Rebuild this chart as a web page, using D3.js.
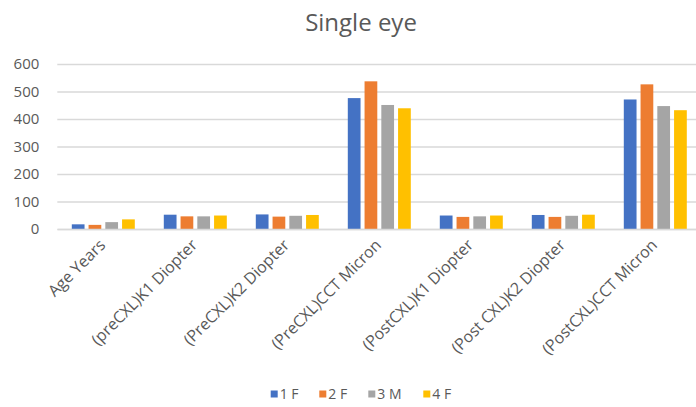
<!DOCTYPE html>
<html>
<head>
<meta charset="utf-8">
<script src="https://cdn.jsdelivr.net/npm/d3@7/dist/d3.min.js"></script>
<style>
  html, body { margin: 0; padding: 0; background: #fff; }
  svg { display: block; }
  svg text { font-family: "Open Sans", "Noto Sans", sans-serif; }
</style>
</head>
<body>
<svg id="chart" width="696" height="407"></svg>
<script>
// Measurements per subject
const categories = [
  "Age Years",
  "(preCXL)K1 Diopter",
  "(PreCXL)K2 Diopter",
  "(PreCXL)CCT Micron",
  "(PostCXL)K1 Diopter",
  "(Post CXL)K2 Diopter",
  "(PostCXL)CCT Micron"
];
const seriesNames = ["1 F", "2 F", "3 M", "4 F"];
const s1F = [17, 52, 53, 476, 49, 51, 471];
const s2F = [15, 46, 45, 537, 44, 44, 526];
const s3M = [25, 46, 48, 451, 46, 48, 447];
const s4F = [35, 49, 51, 439, 49, 52, 432];
const seriesValues = [s1F, s2F, s3M, s4F];
const yTicks = [0, 100, 200, 300, 400, 500, 600];
const colors = ["#4472C4", "#ED7D31", "#A5A5A5", "#FFC000"];

const svg = d3.select("#chart");
const textColor = "#595959";

const plot = { left: 57.3, right: 701.3, top: 64, bottom: 229 };

const x0 = d3.scaleBand().domain(categories).range([plot.left, plot.right]).padding(0);
const x1 = d3.scaleBand().domain(seriesNames).range([14.5, 77.5]).paddingInner(0.24).paddingOuter(0);
const y = d3.scaleLinear().domain([0, 600]).range([plot.bottom, plot.top]);

// Title
svg.append("text")
  .attr("x", 361).attr("y", 31)
  .attr("text-anchor", "middle")
  .attr("fill", textColor)
  .style("font-size", "24px")
  .text("Single eye");

// Gridlines and y labels
const yAxis = d3.axisLeft(y).tickValues(yTicks).tickSize(-(plot.right - plot.left)).tickPadding(18);
const gy = svg.append("g").attr("transform", `translate(${plot.left},0)`).call(yAxis)
  .attr("font-family", null).attr("font-size", null);
gy.select(".domain").remove();
gy.selectAll(".tick line").attr("stroke", "#D9D9D9").attr("stroke-width", 1.3);
gy.selectAll(".tick text").attr("fill", textColor).style("font-size", "15px");

// Bars
const groups = svg.append("g").selectAll("g")
  .data(categories.map((c, i) => ({ c, i })))
  .join("g")
  .attr("transform", d => `translate(${x0(d.c)},0)`);

groups.selectAll("rect")
  .data(d => seriesNames.map((s, k) => ({ s, k, v: seriesValues[k][d.i] })))
  .join("rect")
  .attr("x", d => x1(d.s))
  .attr("width", x1.bandwidth())
  .attr("y", d => y(d.v))
  .attr("height", d => y(0) - y(d.v))
  .attr("fill", d => colors[d.k]);

// X axis with rotated labels
const xAxis = d3.axisBottom(x0).tickSize(0).tickPadding(0);
const gx = svg.append("g").attr("transform", `translate(0,${plot.bottom})`).call(xAxis)
  .attr("font-family", null).attr("font-size", null);
gx.select(".domain").attr("stroke", "#D9D9D9").attr("stroke-width", 1.3);
gx.selectAll(".tick text")
  .attr("fill", textColor)
  .style("font-size", "16px")
  .attr("text-anchor", "end")
  .attr("dy", null)
  .attr("transform", "translate(3,17) rotate(-45)");

// Legend
const legend = svg.append("g").attr("transform", "translate(0,394)");
const legendX = [270.7, 319.3, 368.3, 423.3];
const items = legend.selectAll("g").data(seriesNames).join("g")
  .attr("transform", (d, i) => `translate(${legendX[i]},0)`);
items.append("rect").attr("x", 0).attr("y", -3.5).attr("width", 7).attr("height", 7)
  .attr("fill", (d, i) => colors[i]);
items.append("text").attr("x", 9).attr("y", 0).attr("dy", "0.36em")
  .attr("fill", textColor).style("font-size", "14px").text(d => d);
</script>
</body>
</html>
